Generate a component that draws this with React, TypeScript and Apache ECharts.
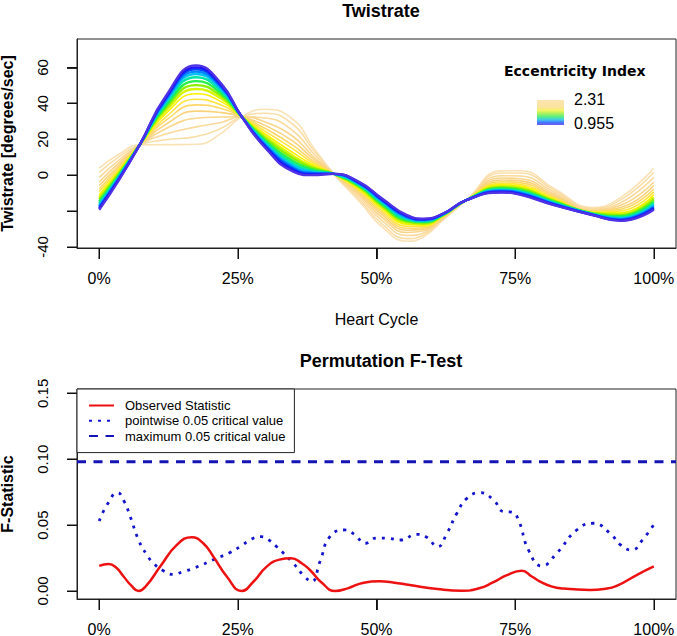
import React, { useEffect, useRef } from "react";
import * as echarts from "echarts";

// ---------- Top panel: Twistrate curves ----------
const heartCycleX = [0, 3.5, 7.3, 12, 17.5, 22, 25.7, 30, 35, 38.5, 42.3, 47, 51, 55.5, 58.5, 62, 66.2, 72.5, 76, 82, 89, 94, 100];

// curves ordered from lowest eccentricity index (0.955, blue) to highest (2.31, pale orange)
const twistrateCurves: number[][] = [
  [-19.3, -3.0, 16.9, 44.0, 61.2, 51.0, 32.6, 15.0, 2.0, 0.0, 0.7, -4.0, -13.0, -22.3, -24.2, -21.4, -13.9, -9.7, -11.0, -16.7, -22.3, -25.5, -19.3],
  [-18.7, -2.6, 16.9, 43.3, 60.1, 50.3, 32.6, 15.5, 2.7, 0.4, 0.7, -4.3, -13.4, -22.7, -24.5, -21.5, -13.9, -9.4, -10.7, -16.5, -22.2, -25.2, -18.7],
  [-18.1, -2.3, 16.9, 42.7, 59.0, 49.6, 32.6, 16.1, 3.5, 0.8, 0.7, -4.6, -13.8, -23.0, -24.7, -21.6, -13.9, -9.1, -10.3, -16.2, -22.1, -24.9, -18.1],
  [-17.4, -1.8, 16.9, 41.8, 57.7, 48.8, 32.6, 16.7, 4.3, 1.3, 0.7, -4.9, -14.3, -23.5, -25.0, -21.7, -13.9, -8.7, -9.9, -16.0, -22.0, -24.5, -17.4],
  [-16.7, -1.4, 16.9, 41.0, 56.4, 48.0, 32.6, 17.4, 5.2, 1.8, 0.7, -5.2, -14.7, -23.9, -25.3, -21.8, -13.9, -8.4, -9.5, -15.7, -21.8, -24.1, -16.7],
  [-15.8, -0.8, 16.9, 40.0, 54.6, 46.8, 32.6, 18.3, 6.4, 2.4, 0.7, -5.7, -15.4, -24.5, -25.7, -22.0, -13.9, -7.9, -9.0, -15.3, -21.7, -23.6, -15.8],
  [-14.7, -0.1, 16.9, 38.6, 52.4, 45.5, 32.6, 19.3, 7.8, 3.2, 0.7, -6.2, -16.2, -25.2, -26.2, -22.1, -13.9, -7.3, -8.3, -14.8, -21.4, -22.9, -14.7],
  [-13.5, 0.6, 16.9, 37.3, 50.2, 44.1, 32.6, 20.4, 9.3, 4.0, 0.7, -6.8, -17.0, -25.9, -26.8, -22.3, -13.9, -6.7, -7.6, -14.4, -21.2, -22.3, -13.5],
  [-12.3, 1.4, 16.9, 35.9, 48.0, 42.7, 32.6, 21.5, 10.7, 4.8, 0.7, -7.3, -17.7, -26.7, -27.3, -22.5, -13.9, -6.1, -7.0, -13.9, -21.0, -21.6, -12.3],
  [-10.9, 2.2, 16.9, 34.3, 45.4, 41.0, 32.6, 22.8, 12.4, 5.8, 0.7, -8.0, -18.7, -27.5, -27.9, -22.7, -13.9, -5.3, -6.1, -13.4, -20.8, -20.8, -10.9],
  [-9.3, 3.2, 16.9, 32.4, 42.3, 39.1, 32.6, 24.3, 14.5, 6.9, 0.7, -8.7, -19.8, -28.5, -28.6, -23.0, -13.9, -4.5, -5.2, -12.7, -20.5, -19.9, -9.3],
  [-7.7, 4.3, 16.9, 30.5, 39.2, 37.2, 32.6, 25.9, 16.5, 8.0, 0.7, -9.5, -20.9, -29.6, -29.3, -23.3, -13.9, -3.7, -4.3, -12.1, -20.2, -19.0, -7.7],
  [-5.8, 5.4, 16.9, 28.3, 35.7, 34.9, 32.6, 27.6, 18.8, 9.3, 0.7, -10.4, -22.2, -30.7, -30.1, -23.5, -13.9, -2.7, -3.2, -11.3, -19.8, -18.0, -5.8],
  [-3.8, 6.7, 16.9, 25.9, 31.7, 32.4, 32.6, 29.5, 21.4, 10.7, 0.7, -11.4, -23.6, -32.0, -31.0, -23.9, -13.9, -1.6, -2.0, -10.5, -19.4, -16.8, -3.8],
  [-1.2, 8.3, 16.9, 22.9, 26.9, 29.4, 32.6, 31.9, 24.6, 12.5, 0.7, -12.6, -25.3, -33.6, -32.2, -24.3, -13.9, -0.3, -0.5, -9.4, -18.9, -15.4, -1.2],
  [1.6, 10.1, 16.9, 19.7, 21.6, 26.1, 32.6, 34.5, 28.1, 14.4, 0.7, -13.9, -27.2, -35.4, -33.4, -24.7, -13.9, 1.2, 1.2, -8.3, -18.4, -13.8, 1.6],
  [3.9, 11.5, 16.9, 17.0, 17.2, 23.3, 32.6, 36.7, 31.0, 16.0, 0.7, -15.0, -28.8, -36.8, -34.4, -25.1, -13.9, 2.4, 2.5, -7.4, -18.0, -12.5, 3.9],
];

const curveColors = [
  "#4f32e4", "#2010ff", "#0046ff", "#0088ff", "#00c4f2", "#00e6a6", "#26f04a", "#8cf000",
  "#d8f400", "#fff000", "#ffe440", "#fdd868", "#fbd27c", "#fad68c", "#fad99a", "#fadea8", "#fae2b6",
];

const eccentricityRange = ["2.31", "0.955"];
const twistTicks = [-40, -20, 0, 20, 40, 60];
const twistTickLabels = [-40, 0, 20, 40, 60];
const pctTicks = [0, 25, 50, 75, 100];

// ---------- Bottom panel: Permutation F-Test ----------
const observedX = [0, 1.7, 3, 4.4, 5.8, 7.1, 8.5, 11, 14, 16.7, 18.8, 20.6, 23, 25.7, 27.8, 30.2, 32.5, 34.6, 36.5, 38, 40.2, 42.5, 44.8, 47.7, 50.5, 53, 56, 61, 65.4, 68.5, 71, 73.5, 76.2, 78, 79.5, 81.5, 83.7, 88.5, 91, 93.3, 96.9, 100];
const observedY = [0.019, 0.0205, 0.018, 0.011, 0.004, 0, 0.004, 0.0185, 0.035, 0.0408, 0.036, 0.026, 0.011, 0, 0.007, 0.0185, 0.0238, 0.0248, 0.021, 0.0159, 0.006, 0, 0.002, 0.0063, 0.0073, 0.0065, 0.0045, 0.0015, 0.0002, 0.002, 0.0065, 0.012, 0.0154, 0.011, 0.0071, 0.0035, 0.0018, 0.0008, 0.0015, 0.0038, 0.0121, 0.0186];

const pointwiseX = [0, 1.5, 3.3, 4.5, 5.6, 7.1, 8.5, 9.8, 11.5, 13.4, 15, 17, 21.2, 23.5, 25.4, 27.5, 29.2, 30.5, 32, 35, 37, 38.3, 39.8, 41.6, 44.3, 46, 48, 50, 52, 54.3, 57.3, 59.1, 61, 62.7, 64.5, 66.3, 68.7, 71.1, 72.9, 74.4, 75.6, 77.4, 79.8, 82.5, 86.1, 89.1, 92.1, 94, 96, 98, 100];
const pointwiseY = [0.0531, 0.066, 0.0746, 0.068, 0.0564, 0.0387, 0.028, 0.021, 0.0155, 0.0126, 0.0145, 0.0172, 0.0248, 0.029, 0.0336, 0.0395, 0.0412, 0.039, 0.0336, 0.021, 0.011, 0.0071, 0.0222, 0.0412, 0.0463, 0.043, 0.0362, 0.0402, 0.04, 0.0387, 0.043, 0.0407, 0.0336, 0.0438, 0.059, 0.0703, 0.0746, 0.069, 0.0602, 0.0598, 0.0539, 0.0311, 0.019, 0.0286, 0.0463, 0.0514, 0.0438, 0.035, 0.0311, 0.039, 0.0505];

// horizontal line spanning the whole plotting region
const maximumX = [-4, 104];
const maximumY = [0.098, 0.098];

const fTicks = [0, 0.05, 0.1, 0.15];
const seriesNames = ["Observed Statistic", "pointwise 0.05 critical value", "maximum 0.05 critical value"];

// axis ranges (R-style 4% padding)
const xRange = [-4, 104];
const twistRange = [-40.6, 75.9];
const fRange = [-0.0061, 0.1533];

const FONT = "'Liberation Sans', Arial, Helvetica, sans-serif";

// R-style outward tick marks, placed through the axes' own scales
function xTickSeries(axisIndex: number, yMin: number) {
  return {
    type: "custom",
    xAxisIndex: axisIndex,
    yAxisIndex: axisIndex,
    silent: true,
    clip: false,
    z: 6,
    data: pctTicks.map((v) => [v, yMin]),
    renderItem: (_params: any, api: any) => {
      const p = api.coord([api.value(0), api.value(1)]);
      return {
        type: "rect",
        shape: { x: Math.round(p[0]) - 0.5, y: Math.round(p[1]), width: 1.4, height: 11 },
        style: { fill: "#111", stroke: null },
      };
    },
  };
}
function yTickSeries(axisIndex: number, ticks: number[]) {
  return {
    type: "custom",
    xAxisIndex: axisIndex,
    yAxisIndex: axisIndex,
    silent: true,
    clip: false,
    z: 6,
    data: ticks.map((v) => [xRange[0], v]),
    renderItem: (_params: any, api: any) => {
      const p = api.coord([api.value(0), api.value(1)]);
      return {
        type: "rect",
        shape: { x: Math.round(p[0]) - 10, y: Math.round(p[1]) - 0.5, width: 10, height: 1.4 },
        style: { fill: "#111", stroke: null },
      };
    },
  };
}

export default function App() {
  const ref = useRef<HTMLDivElement>(null);

  useEffect(() => {
    if (!ref.current) return;
    const chart = echarts.init(ref.current, null, { renderer: "svg" });

    const curveSeries = twistrateCurves
      .map((curve, i) => ({ curve, i }))
      .reverse()
      .map(({ curve, i }) => ({
        type: "line",
        xAxisIndex: 0,
        yAxisIndex: 0,
        data: heartCycleX.map((x, k) => [x, curve[k]]),
        smooth: true,
        symbol: "none",
        silent: true,
        lineStyle: { color: curveColors[i], width: i < 9 ? 2.4 : 1.6 },
        z: 2,
      }));

    const axisLabelBase = { color: "#000", fontFamily: FONT, fontSize: 15 };
    const tickAxis = { show: true, inside: false, length: 11, lineStyle: { color: "#111", width: 1 } };
    const lineAxis = { show: true, onZero: false, lineStyle: { color: "#222", width: 1 } };
    const gridBase = {
      show: true,
      borderColor: "#222",
      borderWidth: 1,
      backgroundColor: "transparent",
      containLabel: false,
      outerBoundsMode: "none",
    };

    const option: any = {
      animation: false,
      title: [
        {
          text: "Twistrate",
          left: 376,
          top: -3,
          textAlign: "center",
          textStyle: { fontFamily: FONT, fontWeight: "bold", fontSize: 18, color: "#000" },
        },
        {
          text: "Permutation F-Test",
          left: 376,
          top: 347,
          textAlign: "center",
          textStyle: { fontFamily: FONT, fontWeight: "bold", fontSize: 18, color: "#000" },
        },
      ],
      grid: [
        { ...gridBase, left: 77, top: 39, width: 599, height: 209 },
        { ...gridBase, left: 77, top: 389, width: 599, height: 210 },
      ],
      xAxis: [
        {
          type: "value",
          gridIndex: 0,
          min: xRange[0],
          max: xRange[1],
          name: "Heart Cycle",
          nameLocation: "middle",
          nameGap: 63,
          nameTextStyle: { fontFamily: FONT, fontSize: 16, color: "#000" },
          axisLine: lineAxis,
          axisTick: { ...tickAxis, customValues: pctTicks },
          axisLabel: { ...axisLabelBase, fontSize: 16, margin: 22, customValues: pctTicks, formatter: (v: number) => `${v}%` },
          splitLine: { show: false },
        },
        {
          type: "value",
          gridIndex: 1,
          min: xRange[0],
          max: xRange[1],
          axisLine: lineAxis,
          axisTick: { ...tickAxis, customValues: pctTicks },
          axisLabel: { ...axisLabelBase, fontSize: 16, margin: 22, customValues: pctTicks, formatter: (v: number) => `${v}%` },
          splitLine: { show: false },
        },
      ],
      yAxis: [
        {
          type: "value",
          gridIndex: 0,
          min: twistRange[0],
          max: twistRange[1],
          name: "Twistrate [degrees/sec]",
          nameLocation: "middle",
          nameRotate: 90,
          nameGap: 62,
          nameTextStyle: { fontFamily: FONT, fontSize: 16, fontWeight: "bold", color: "#000" },
          axisLine: lineAxis,
          axisTick: { ...tickAxis, length: 10, customValues: twistTicks },
          axisLabel: { ...axisLabelBase, rotate: 90, margin: 27, customValues: twistTickLabels, formatter: (v: number) => `${v}` },
          splitLine: { show: false },
        },
        {
          type: "value",
          gridIndex: 1,
          min: fRange[0],
          max: fRange[1],
          name: "F-Statistic",
          nameLocation: "middle",
          nameRotate: 90,
          nameGap: 62,
          nameTextStyle: { fontFamily: FONT, fontSize: 16, fontWeight: "bold", color: "#000" },
          axisLine: lineAxis,
          axisTick: { ...tickAxis, length: 10, customValues: fTicks },
          axisLabel: { ...axisLabelBase, rotate: 90, margin: 27, customValues: fTicks, formatter: (v: number) => v.toFixed(2) },
          splitLine: { show: false },
        },
      ],
      legend: {
        data: seriesNames,
        left: 77,
        top: 389,
        orient: "vertical",
        backgroundColor: "#fff",
        borderColor: "#222",
        borderWidth: 1,
        borderRadius: 0,
        padding: [10, 9, 10, 11],
        itemWidth: 25,
        itemHeight: 14,
        itemGap: 2.3,
        itemStyle: { color: "transparent", borderWidth: 0, opacity: 0 },
        textStyle: { fontFamily: FONT, fontSize: 13, color: "#000", padding: [0, 0, 0, 6] },
        selectedMode: false,
        z: 10,
      },
      graphic: [
        {
          type: "text",
          left: 504,
          top: 64,
          style: { text: "Eccentricity Index", fontFamily: "'DejaVu Sans', sans-serif", fontWeight: "bold", fontSize: 14, fill: "#000" },
        },
        {
          type: "rect",
          shape: { x: 537, y: 100, width: 27, height: 25 },
          style: {
            fill: new echarts.graphic.LinearGradient(0, 0, 0, 1, [
              { offset: 0, color: "#fde4b4" },
              { offset: 0.3, color: "#fbe49c" },
              { offset: 0.42, color: "#f4f462" },
              { offset: 0.56, color: "#9ef060" },
              { offset: 0.68, color: "#50ee8a" },
              { offset: 0.8, color: "#40c4f2" },
              { offset: 0.9, color: "#4a74ff" },
              { offset: 1, color: "#6a5aec" },
            ]),
          },
        },
        {
          type: "text",
          left: 574,
          top: 91,
          style: { text: eccentricityRange[0], fontFamily: FONT, fontSize: 16, fill: "#000" },
        },
        {
          type: "text",
          left: 574,
          top: 115,
          style: { text: eccentricityRange[1], fontFamily: FONT, fontSize: 16, fill: "#000" },
        },
      ],
      series: [
        ...curveSeries,
        {
          name: seriesNames[0],
          type: "line",
          xAxisIndex: 1,
          yAxisIndex: 1,
          data: observedX.map((x, k) => [x, observedY[k]]),
          smooth: true,
          symbol: "none",
          lineStyle: { color: "#ee1111", width: 2.5, type: "solid" },
          itemStyle: { color: "#ee1111" },
          z: 4,
        },
        {
          name: seriesNames[1],
          type: "line",
          xAxisIndex: 1,
          yAxisIndex: 1,
          data: pointwiseX.map((x, k) => [x, pointwiseY[k]]),
          smooth: true,
          symbol: "none",
          lineStyle: { color: "#1414cc", width: 2.8, type: [3, 6] },
          itemStyle: { color: "#1414cc" },
          z: 3,
        },
        {
          name: seriesNames[2],
          type: "line",
          xAxisIndex: 1,
          yAxisIndex: 1,
          data: maximumX.map((x, k) => [x, maximumY[k]]),
          symbol: "none",
          lineStyle: { color: "#1414b4", width: 3, type: [9, 7.5] },
          itemStyle: { color: "#1414b4" },
          z: 3,
        },
        xTickSeries(0, twistRange[0]),
        yTickSeries(0, twistTicks),
        xTickSeries(1, fRange[0]),
        yTickSeries(1, fTicks),
      ],
    };

    chart.setOption(option);
    return () => chart.dispose();
  }, []);

  return (
    <div
      ref={ref}
      style={{ position: "absolute", left: 0, top: 0, width: 677, height: 636, background: "#fff" }}
    />
  );
}
